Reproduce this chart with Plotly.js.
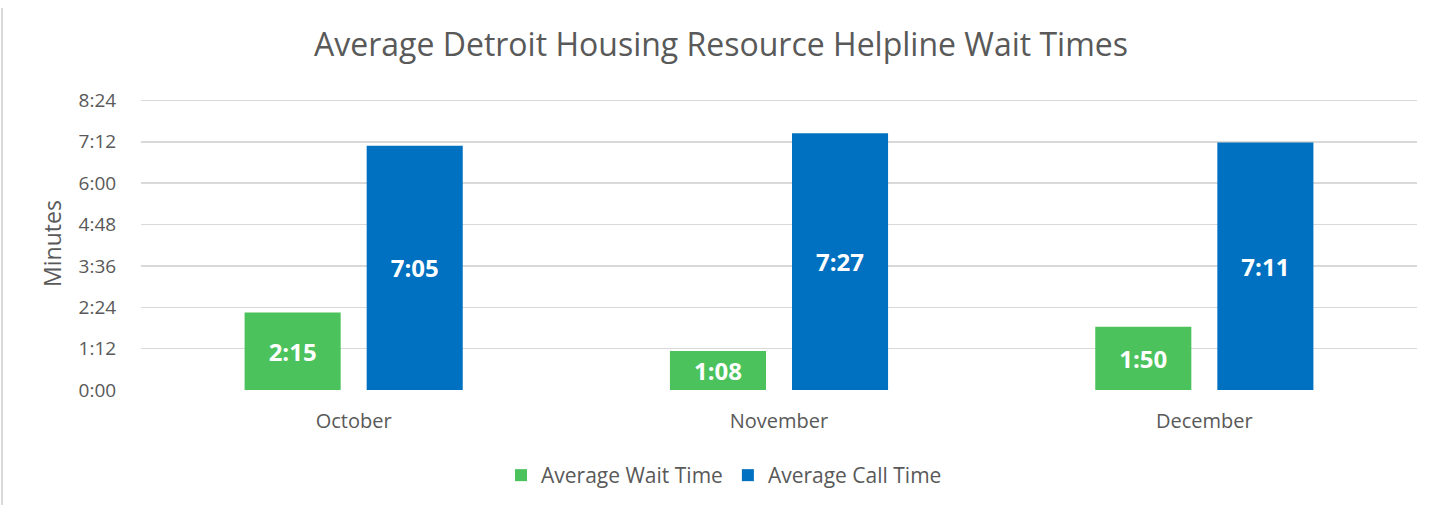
<!DOCTYPE html>
<html>
<head>
<meta charset="utf-8">
<script src="https://cdn.plot.ly/plotly-3.0.1.min.js"></script>
<style>
  html, body { margin: 0; padding: 0; background: #fff; }
  #wrap { position: relative; width: 1442px; height: 506px; }
  #frame { position: absolute; left: 1px; top: 8px; width: 2px; height: 497px; background: #d9d9d9; }
  #chart { position: absolute; left: 0; top: 0; width: 1442px; height: 506px; }
</style>
</head>
<body>
<div id="wrap"><div id="chart"></div><div id="frame"></div></div>
<script>
const months = ["October", "November", "December"];
const waitSeconds = [135, 68, 110];   // 2:15, 1:08, 1:50
const callSeconds = [425, 447, 431];  // 7:05, 7:27, 7:11
const tickSeconds = [0, 72, 144, 216, 288, 360, 432, 504];
const tickLabels = ["0:00", "1:12", "2:24", "3:36", "4:48", "6:00", "7:12", "8:24"];

function fmt(s) {
  const m = Math.floor(s / 60), r = s % 60;
  return m + ":" + (r < 10 ? "0" : "") + r;
}

const font = "Open Sans, Noto Sans, sans-serif";
const gray = "#595959";

const barCommon = {
  type: "bar",
  x: months,
  textposition: "inside",
  insidetextanchor: "middle",
  textangle: 0,
  textfont: { family: font, size: 24, color: "#ffffff", weight: "bold" },
  hoverinfo: "skip"
};

const traces = [
  Object.assign({}, barCommon, {
    name: "Average Wait Time",
    y: waitSeconds,
    text: waitSeconds.map(fmt),
    marker: { color: "#4BC25B" }
  }),
  Object.assign({}, barCommon, {
    name: "Average Call Time",
    y: callSeconds,
    text: callSeconds.map(fmt),
    marker: { color: "#0070C0" }
  })
];

const layout = {
  width: 1442,
  height: 506,
  margin: { l: 141, r: 25, t: 97, b: 116 },
  paper_bgcolor: "rgba(0,0,0,0)",
  plot_bgcolor: "#ffffff",
  font: { family: font, color: gray },
  title: {
    text: "Average Detroit Housing Resource Helpline Wait Times",
    font: { family: font, size: 32, color: gray },
    x: 0.5, xanchor: "center",
    y: 1 - 45 / 506, yanchor: "middle"
  },
  barmode: "group",
  bargap: 0.426,
  bargroupgap: 0.213,
  xaxis: {
    automargin: false,
    showgrid: false,
    zeroline: false,
    showline: false,
    ticks: "outside",
    ticklen: 13,
    tickcolor: "rgba(0,0,0,0)",
    tickfont: { family: font, size: 20, color: gray }
  },
  yaxis: {
    automargin: false,
    range: [0, 510],
    tickmode: "array",
    tickvals: tickSeconds,
    ticktext: tickLabels,
    showgrid: true,
    gridcolor: "#d9d9d9",
    gridwidth: 1.5,
    zeroline: false,
    showline: false,
    ticks: "outside",
    ticklen: 20,
    tickcolor: "rgba(0,0,0,0)",
    tickfont: { family: font, size: 19, color: gray },
    title: { text: "Minutes", font: { family: font, size: 23, color: gray }, standoff: 10 }
  },
  showlegend: true,
  legend: {
    orientation: "h",
    xref: "container",
    yref: "container",
    x: 724 / 1442,
    xanchor: "center",
    y: 1 - 455 / 506,
    yanchor: "top",
    font: { family: font, size: 21, color: gray },
    traceorder: "normal"
  }
};

Plotly.newPlot("chart", traces, layout, { staticPlot: true, displayModeBar: false });
</script>
</body>
</html>
